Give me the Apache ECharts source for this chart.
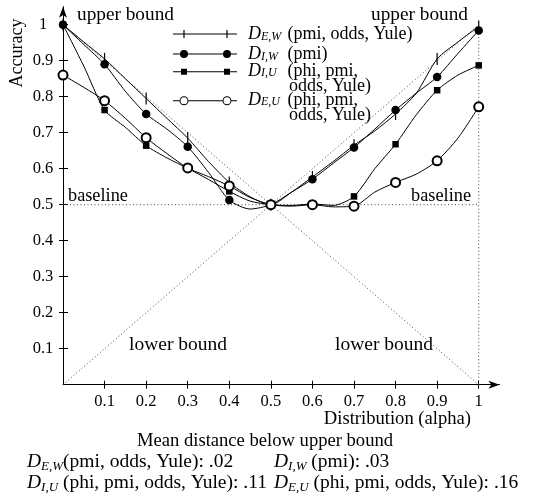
<!DOCTYPE html>
<html><head><meta charset="utf-8">
<script src="https://cdn.jsdelivr.net/npm/echarts@6/dist/echarts.min.js"></script>
<style>html,body{margin:0;padding:0;background:#fff}#c{width:541px;height:497px}</style>
</head><body><div id="c"></div>
<script>
// ---------- data ----------
const alpha = [0,0.05,0.1,0.15,0.2,0.25,0.3,0.35,0.4,0.45,0.5,0.55,0.6,0.65,0.7,0.75,0.8,0.85,0.9,0.95,1];
const dEW = [1.0,0.952,0.905,0.85,0.795,0.74,0.685,0.62,0.562,0.522,0.5,0.535,0.577,0.62,0.665,0.705,0.752,0.81,0.905,0.952,0.995];
const dIW = [1.0,0.945,0.89,0.815,0.752,0.71,0.661,0.59,0.513,0.488,0.5,0.535,0.571,0.615,0.659,0.71,0.763,0.81,0.855,0.92,0.984];
const dIU = [1.0,0.885,0.763,0.715,0.664,0.63,0.601,0.57,0.537,0.51,0.5,0.498,0.502,0.498,0.523,0.6,0.668,0.75,0.818,0.86,0.887];
const dEU = [0.86,0.826,0.789,0.74,0.686,0.642,0.602,0.578,0.552,0.52,0.5,0.496,0.5,0.494,0.496,0.535,0.562,0.585,0.622,0.685,0.772];
const upperBound = [[0,1],[0.5,0.5],[1,1]];
const lowerBound = [[0,0],[0.5,0.5],[1,0]];
const baseline = [[0,0.5],[1,0.5]];
const rightEdge = [[1,0],[1,1]];
const xTicks = [0.1,0.2,0.3,0.4,0.5,0.6,0.7,0.8,0.9,1];
const yTicks = [0.1,0.2,0.3,0.4,0.5,0.6,0.7,0.8,0.9,1];
const meanSubs = ['E,W','I,W','I,U','E,U'];
const meanMeasures = ['(pmi, odds, Yule)','(pmi)','(phi, pmi, odds, Yule)','(phi, pmi, odds, Yule)'];
const meanValues = ['.02','.03','.11','.16'];

// ---------- style helpers ----------
const FF = '"Liberation Serif","Times New Roman",serif';
function makeRich(fs, lh, subW){
  const s = {fontFamily: FF, fontSize: Math.round(fs*0.66), fontStyle: 'italic', color: '#000', verticalAlign: 'bottom', lineHeight: Math.round(lh*0.6)};
  if (subW) s.width = subW;
  return {
    d: {fontFamily: FF, fontSize: fs, fontStyle: 'italic', color: '#000', lineHeight: lh},
    s: s,
    i: {fontFamily: FF, fontSize: fs, width: 41, lineHeight: lh}
  };
}
function pts(vals){
  return alpha.map((a,i) => i % 2 === 0 ? {value:[a, vals[i]]} : {value:[a, vals[i]], symbol:'none'});
}
function rectP(x,y,w,h){ return `M${x},${y}h${w}v${h}h${-w}Z`; }
function circP(cx,cy,r,sw){ return `M${cx-r},${cy}A${r},${r} 0 1,${sw} ${cx+r},${cy}A${r},${r} 0 1,${sw} ${cx-r},${cy}Z`; }
function corners(H){ return rectP(0,0,0.01,0.01) + rectP(69.99,H-0.01,0.01,0.01); }
const iconEW = 'path://' + corners(10) + rectP(0,4.5,64,1) + rectP(10.4,1,1.2,8) + rectP(53.4,1,1.2,8);
const iconIW = 'path://' + corners(10) + rectP(0,4.5,64,1) + circP(11,5,4,1) + circP(54,5,4,1);
const cy2 = 7.25;
const iconIU = 'path://' + corners(29) + rectP(0,cy2-0.5,64,1) + rectP(8,cy2-3,6,6) + rectP(51,cy2-3,6,6);
const iconEU = 'path://' + corners(29) + rectP(0,cy2-0.5,6.5,1) + rectP(15.5,cy2-0.5,34,1) + rectP(58.5,cy2-0.5,5.5,1)
  + circP(11,cy2,4.5,1) + circP(11,cy2,3.5,0) + circP(54,cy2,4.5,1) + circP(54,cy2,3.5,0);

const legendText = {
  DEW: '{d|D}{s|E,W} (pmi, odds, Yule)',
  DIW: '{d|D}{s|I,W} (pmi)',
  DIU: '{d|D}{s|I,U} (phi, pmi,\n{i| }odds, Yule)',
  DEU: '{d|D}{s|E,U} (phi, pmi,\n{i| }odds, Yule)'
};
const legItemStyle = {color:'#000', borderWidth:0, borderColor:'#000'};
const lineBase = {type:'line', xAxisIndex:0, yAxisIndex:0, smooth:0.25, lineStyle:{color:'#000', width:1}, itemStyle:{color:'#000'}, silent:true, z:3};
const dotted = {type:'line', symbol:'none', silent:true, lineStyle:{color:'#444', width:1, type:[1,2.5]}, z:1};

function axisCommon(){
  return {type:'value', min:0, max:1.05, splitLine:{show:false}};
}
function txt(x,y,text,align,fs,extra){
  return Object.assign({type:'text', x:x, y:y, silent:true,
    style:{text:text, fontFamily:FF, fontSize:fs, fill:'#000', align:align || 'left', verticalAlign:'middle', rich: makeRich(fs, fs+2)}}, extra || {});
}
function legend2(name, icon, top){
  return {orient:'vertical', left:173, top:top, padding:0, itemWidth:70, itemHeight:29, itemGap:0, selectedMode:false,
     data:[{name:name, icon:icon, itemStyle:legItemStyle}],
     formatter:n=>legendText[n],
     textStyle:{fontFamily:FF, fontSize:18, color:'#000', lineHeight:14.5, rich:makeRich(18,14.5,22)}};
}

const chart = echarts.init(document.getElementById('c'), null, {renderer:'canvas'});
chart.setOption({
  animation:false,
  backgroundColor:'#fff',
  grid:{left:63, right:41.5, top:6.7, bottom:112.3},
  xAxis:[
    Object.assign(axisCommon(), {position:'bottom',
      axisLine:{show:true, symbol:['none','arrow'], symbolSize:[6,11], lineStyle:{color:'#000', width:1}},
      axisTick:{show:true, inside:true, length:4, customValues:xTicks, lineStyle:{color:'#000', width:1}},
      axisLabel:{show:true, customValues:xTicks, margin:8, fontFamily:FF, fontSize:16.5, color:'#000', formatter:v=>String(v)}}),
    Object.assign(axisCommon(), {position:'bottom',
      axisLine:{show:false},
      axisTick:{show:true, inside:false, length:4, customValues:xTicks, lineStyle:{color:'#000', width:1}},
      axisLabel:{show:false}})
  ],
  yAxis:[
    Object.assign(axisCommon(), {position:'left',
      axisLine:{show:true, symbol:['none','arrow'], symbolSize:[6,11], lineStyle:{color:'#000', width:1}},
      axisTick:{show:true, inside:true, length:5, customValues:yTicks, lineStyle:{color:'#000', width:1}},
      axisLabel:{show:true, customValues:yTicks, margin:20, align:'center', padding:[0,0,8,0], fontFamily:FF, fontSize:16.5, color:'#000', formatter:v=>String(v)}}),
    Object.assign(axisCommon(), {position:'left',
      axisLine:{show:false},
      axisTick:{show:true, inside:false, length:4, customValues:yTicks, lineStyle:{color:'#000', width:1}},
      axisLabel:{show:false}})
  ],
  legend:[
    {orient:'vertical', left:173, top:25, padding:0, itemWidth:70, itemHeight:10, itemGap:2, selectedMode:false,
     data:[{name:'DEW', icon:iconEW, itemStyle:legItemStyle}, {name:'DIW', icon:iconIW, itemStyle:legItemStyle}],
     formatter:n=>legendText[n],
     textStyle:{fontFamily:FF, fontSize:18, color:'#000', lineHeight:18, rich:makeRich(18,18,22)}},
    legend2('DIU', iconIU, 62.75),
    legend2('DEU', iconEU, 91.75)
  ],
  series:[
    Object.assign({}, dotted, {name:'upper', data:upperBound}),
    Object.assign({}, dotted, {name:'lower', data:lowerBound}),
    Object.assign({}, dotted, {name:'base', data:baseline}),
    Object.assign({}, dotted, {name:'edge', data:rightEdge}),
    Object.assign({}, lineBase, {name:'DEW', symbol:'rect', symbolSize:[1.2,12], data:pts(dEW)}),
    Object.assign({}, lineBase, {name:'DIW', symbol:'circle', symbolSize:8.5, data:pts(dIW)}),
    Object.assign({}, lineBase, {name:'DIU', symbol:'rect', symbolSize:6.5, data:pts(dIU)}),
    Object.assign({}, lineBase, {name:'DEU', symbol:'emptyCircle', symbolSize:9, itemStyle:{color:'#000', borderWidth:1}, data:pts(dEU)})
  ],
  graphic:[
    txt(77,15,'upper bound','left',19.3),
    txt(468,15,'upper bound','right',19.3),
    txt(68,196,'baseline','left',18.3),
    txt(471,196,'baseline','right',18.3),
    txt(129,345,'lower bound','left',19.5),
    txt(335,345,'lower bound','left',19.5),
    txt(471,419,'Distribution (alpha)','right',18.6),
    txt(17,53,'Accuracy','center',18,{rotation:Math.PI/2}),
    txt(265,441,'Mean distance below upper bound','center',18.6),
    txt(27,462,`{d|D}{s|${meanSubs[0]}}${meanMeasures[0]}: ${meanValues[0]}`,'left',19.5),
    txt(274,462,`{d|D}{s|${meanSubs[1]}} ${meanMeasures[1]}: ${meanValues[1]}`,'left',19.5),
    txt(27,483,`{d|D}{s|${meanSubs[2]}} ${meanMeasures[2]}: ${meanValues[2]}`,'left',19.5),
    txt(274,483,`{d|D}{s|${meanSubs[3]}} ${meanMeasures[3]}: ${meanValues[3]}`,'left',19.5)
  ]
});
</script></body></html>
